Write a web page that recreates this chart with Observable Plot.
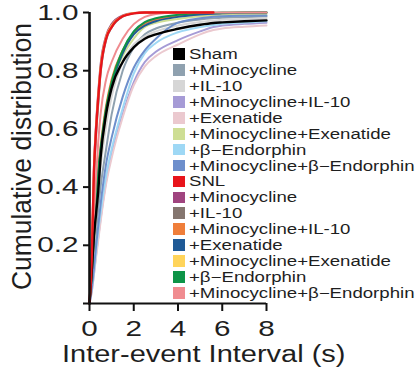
<!DOCTYPE html>
<html>
<head>
<meta charset="utf-8">
<script src="https://cdn.jsdelivr.net/npm/d3@7"></script>
<script src="https://cdn.jsdelivr.net/npm/@observablehq/plot@0.6"></script>
<style>
  body { margin: 0; background: #fff; }
  #wrap { position: relative; width: 415px; height: 369px; font-family: "Liberation Sans", Arial, sans-serif; color: #1e1e1e; overflow: hidden; }
  #chart svg { display: block; }
  .lab { position: absolute; left: 0; top: 0; white-space: nowrap; line-height: 1; transform-origin: 0 0; }
  #legend { position: absolute; left: 173px; top: 0; }
  #legend .row { position: absolute; left: 0; height: 16px; width: 240px; }
  #legend .sw { position: absolute; left: 0; top: 2.2px; width: 11.7px; height: 11.7px; }
  #legend .tx { position: absolute; left: 16px; top: 0; font-size: 14px; line-height: 16px; white-space: nowrap; transform-origin: 0 50%; transform: scaleX(1.33); }
</style>
</head>
<body>
<div id="wrap">
  <div id="chart"></div>
  <div id="legend"></div>
  <div class="lab" id="ylab" style="font-size:22px; transform: translate(8.7px, 290px) rotate(-90deg) scale(1.2, 1.25);">Cumulative distribution</div>
  <div class="lab" id="xlab" style="font-size:23px; transform: translate(62px, 342.5px) scaleX(1.26);">Inter-event Interval (s)</div>
</div>
<script>
// shared x samples (s)
const X = [0, 0.1, 0.2, 0.3, 0.4, 0.5, 0.75, 1, 1.5, 2, 2.5, 3, 4, 5, 5.6, 6, 7, 8];
const xTicks = [0, 2, 4, 6, 8];
const yTicks = [0, 0.2, 0.4, 0.6, 0.8, 1.0];

const legendNames = ["Sham", "+Minocycline", "+IL-10", "+Minocycline+IL-10", "+Exenatide",
  "+Minocycline+Exenatide", "+β−Endorphin", "+Minocycline+β−Endorphin",
  "SNL", "+Minocycline", "+IL-10", "+Minocycline+IL-10", "+Exenatide",
  "+Minocycline+Exenatide", "+β−Endorphin", "+Minocycline+β−Endorphin"];
const legendColors = ["#000000", "#8FA1AF", "#D6D6D6", "#A69BD6", "#EBC9CF",
  "#CEDE94", "#9ED8F5", "#6E8FCC",
  "#E8141B", "#A0447F", "#85766F", "#EF7E3A", "#1F5A96",
  "#FFD45A", "#0D9447", "#F08C90"];

// cumulative distribution values at X
const sham         = [0, 0.11, 0.23, 0.31, 0.39, 0.50, 0.65, 0.74, 0.83, 0.88, 0.91, 0.925, 0.944, 0.958, 0.964, 0.966, 0.970, 0.973];
const shamMino     = [0, 0.07, 0.16, 0.25, 0.33, 0.40, 0.53, 0.65, 0.80, 0.88, 0.925, 0.945, 0.965, 0.976, 0.980, 0.982, 0.984, 0.986];
const shamIL10     = [0, 0.09, 0.20, 0.31, 0.40, 0.47, 0.61, 0.71, 0.83, 0.89, 0.918, 0.935, 0.955, 0.967, 0.972, 0.975, 0.978, 0.981];
const shamMinoIL10 = [0, 0.04, 0.10, 0.17, 0.23, 0.29, 0.42, 0.51, 0.65, 0.76, 0.83, 0.865, 0.905, 0.935, 0.950, 0.955, 0.961, 0.965];
const shamExe      = [0, 0.04, 0.10, 0.16, 0.22, 0.28, 0.41, 0.50, 0.64, 0.75, 0.815, 0.85, 0.89, 0.925, 0.940, 0.945, 0.951, 0.955];
const shamMinoExe  = [0, 0.09, 0.21, 0.33, 0.42, 0.50, 0.65, 0.75, 0.85, 0.91, 0.95, 0.965, 0.978, 0.987, 0.990, 0.992, 0.994, 0.995];
const shamBE       = [0, 0.05, 0.11, 0.18, 0.25, 0.31, 0.44, 0.53, 0.67, 0.79, 0.86, 0.895, 0.932, 0.950, 0.957, 0.961, 0.966, 0.970];
const shamMinoBE   = [0, 0.05, 0.12, 0.20, 0.27, 0.34, 0.48, 0.57, 0.71, 0.81, 0.87, 0.91, 0.965, 0.980, 0.985, 0.987, 0.989, 0.990];
const snl          = [0, 0.15, 0.45, 0.60, 0.71, 0.80, 0.91, 0.95, 0.987, 0.997, 1, 1, 1, 1, 1, null, null, null];
const snlMino      = [0, 0.17, 0.47, 0.62, 0.73, 0.82, 0.92, 0.96, 0.990, 0.998, 1, 1, 1, 1, 1, null, null, null];
const snlIL10      = [0, 0.14, 0.43, 0.58, 0.69, 0.79, 0.905, 0.948, 0.986, 0.997, 1, 1, 1, 1, 1, null, null, null];
const snlMinoIL10  = [0, 0.10, 0.24, 0.37, 0.47, 0.54, 0.68, 0.77, 0.87, 0.93, 0.962, 0.975, 0.988, 0.995, 0.997, 0.998, 1, 1];
const snlExe       = [0, 0.10, 0.23, 0.35, 0.45, 0.52, 0.66, 0.75, 0.86, 0.925, 0.955, 0.97, 0.985, 0.993, 0.996, 0.997, 0.999, 1];
const snlMinoExe   = [0, 0.16, 0.46, 0.61, 0.72, 0.81, 0.915, 0.955, 0.988, 0.998, 1, 1, 1, 1, 1, null, null, null];
const snlBE        = [0, 0.10, 0.23, 0.36, 0.46, 0.53, 0.67, 0.76, 0.87, 0.935, 0.967, 0.98, 0.992, 0.998, 0.999, 1, 1, 1];
const snlMinoBE    = [0, 0.12, 0.30, 0.44, 0.56, 0.65, 0.77, 0.83, 0.91, 0.96, 0.985, 0.995, 1, 1, 1, 1, 1, 1];

const allSeries = [sham, shamMino, shamIL10, shamMinoIL10, shamExe, shamMinoExe, shamBE, shamMinoBE,
  snl, snlMino, snlIL10, snlMinoIL10, snlExe, snlMinoExe, snlBE, snlMinoBE];

// drawing order: pale sham groups, SNL groups, then Sham (black), then SNL (red) on top
const drawOrder = [1, 2, 3, 4, 5, 6, 7, 10, 9, 13, 11, 12, 14, 15, 0, 8];

const lineMarks = drawOrder.map(i => {
  const rows = X.map((x, j) => ({x, y: allSeries[i][j]}));
  return Plot.line(rows, {
    x: "x", y: "y", stroke: legendColors[i],
    strokeWidth: (i === 0 || i === 8) ? 2.4 : 2,
    curve: "monotone-x"
  });
});

const plot = Plot.plot({
  width: 415,
  height: 369,
  marginLeft: 89,
  marginRight: 149,
  marginTop: 12,
  marginBottom: 66,
  style: { fontFamily: "Liberation Sans, Arial, sans-serif", background: "transparent", color: "#1e1e1e" },
  x: { domain: [0, 8] },
  y: { domain: [0, 1] },
  marks: [
    ...lineMarks,
    Plot.ruleY([0], { stroke: "#111", strokeWidth: 2 }),
    Plot.ruleX([0], { stroke: "#111", strokeWidth: 2.6 }),
    Plot.axisY({ ticks: yTicks, tickSize: 6, tickPadding: 5, fontSize: 22, strokeWidth: 2, stroke: "#111",
      tickFormat: d => d === 0 ? "" : d3.format(".1f")(d), label: null }),
    Plot.axisX({ ticks: xTicks, tickSize: 8, tickPadding: 9, fontSize: 22, strokeWidth: 2, stroke: "#111",
      tickFormat: d3.format("d"), label: null })
  ]
});
document.getElementById("chart").appendChild(plot);

// stretch tick labels horizontally like the reference lettering
plot.querySelectorAll('g[aria-label="y-axis tick label"] text, g[aria-label="x-axis tick label"] text').forEach(t => {
  const w = t.getComputedTextLength();
  if (w > 0) {
    t.setAttribute("textLength", (w * 1.35).toFixed(1));
    t.setAttribute("lengthAdjust", "spacingAndGlyphs");
  }
});

// legend
const legend = document.getElementById("legend");
legendNames.forEach((name, i) => {
  const row = document.createElement("div");
  row.className = "row";
  row.style.top = (46 + i * 15.93) + "px";
  const sw = document.createElement("div");
  sw.className = "sw";
  sw.style.background = legendColors[i];
  const tx = document.createElement("span");
  tx.className = "tx";
  tx.textContent = name;
  row.appendChild(sw);
  row.appendChild(tx);
  legend.appendChild(row);
});
</script>
</body>
</html>
